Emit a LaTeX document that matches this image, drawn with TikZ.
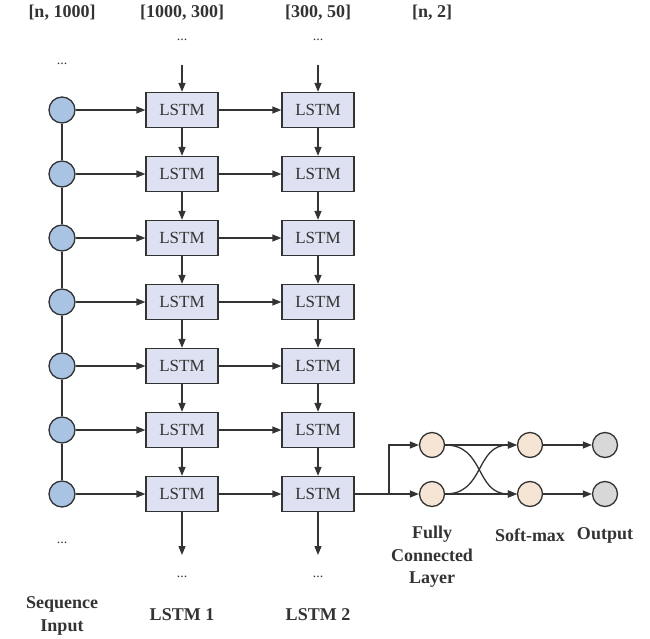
\documentclass[tikz,border=0pt]{standalone}
\usepackage{fontspec}
\setmainfont{Liberation Serif}
\usetikzlibrary{arrows.meta}
\definecolor{inblue}{HTML}{A9C3E3}
\definecolor{lstmfill}{HTML}{DEE1F1}
\definecolor{fcfill}{HTML}{F6E5D4}
\definecolor{outgrey}{HTML}{D8D8D8}
\definecolor{linec}{HTML}{333333}
\definecolor{txtc}{HTML}{333333}
\begin{document}
\begin{tikzpicture}[x=1pt,y=-1pt,
  conn/.style={draw=linec,line width=1.3pt},
  arr/.style={conn,-{Triangle[length=9pt,width=7pt]}},
  inode/.style={circle,draw=linec,line width=1.3pt,fill=inblue,minimum size=26pt,inner sep=0pt},
  fcnode/.style={circle,draw=linec,line width=1.3pt,fill=fcfill,minimum size=25pt,inner sep=0pt},
  onode/.style={circle,draw=linec,line width=1.3pt,fill=outgrey,minimum size=25pt,inner sep=0pt},
  lstm/.style={draw=linec,line width=1.3pt,fill=lstmfill,minimum width=72pt,minimum height=35pt,inner sep=0pt,font=\fontsize{17}{17}\selectfont,text=txtc},
  lab/.style={font=\fontsize{18}{22.5}\selectfont\bfseries,text=txtc,align=center},
  dots/.style={font=\fontsize{14}{14}\selectfont,text=txtc}
]
\useasboundingbox (0,0) rectangle (650,639);
% top labels
\node[lab] (t0) at (62,13) {[n, 1000]};
\node[lab] (t1) at (182,13) {[1000, 300]};
\node[lab] (t2) at (318,13) {[300, 50]};
\node[lab] (t3) at (432,13) {[n, 2]};
% dots top
\node[dots] (d1t) at (182,40) {...};
\node[dots] (d2t) at (318,40) {...};
\node[dots] (d0t) at (62,64) {...};
\coordinate (a1t) at (182,65);
\coordinate (a2t) at (318,65);
% rows
\foreach \i/\y in {1/110,2/174,3/238,4/302,5/366,6/430,7/494}{
  \node[inode] (c\i) at (62,\y) {};
  \node[lstm] (l\i) at (182,\y) {LSTM};
  \node[lstm] (m\i) at (318,\y) {LSTM};
  \draw[arr] (c\i) -- (l\i);
  \draw[arr] (l\i) -- (m\i);
}
\foreach \i/\j in {1/2,2/3,3/4,4/5,5/6,6/7}{
  \draw[conn] (c\i) -- (c\j);
  \draw[arr] (l\i) -- (l\j);
  \draw[arr] (m\i) -- (m\j);
}
\draw[arr] (a1t) -- (l1);
\draw[arr] (a2t) -- (m1);
\coordinate (a1b) at (182,555);
\coordinate (a2b) at (318,555);
\draw[arr] (l7) -- (a1b);
\draw[arr] (m7) -- (a2b);
\node[dots] (d0b) at (62,543) {...};
\node[dots] (d1b) at (182,577) {...};
\node[dots] (d2b) at (318,577) {...};
% bottom labels
\node[lab] (b0) at (62,616) {Sequence\\Input};
\node[lab] (b1) at (182,615) {LSTM 1};
\node[lab] (b2) at (318,615) {LSTM 2};
% right part
\node[fcnode] (f1) at (432,445) {};
\node[fcnode] (f2) at (432,494) {};
\node[fcnode] (s1) at (530,445) {};
\node[fcnode] (s2) at (530,494) {};
\node[onode] (o1) at (605,445) {};
\node[onode] (o2) at (605,494) {};
\coordinate (j) at (389,494);
\draw[conn] (m7.east) -- (j);
\draw[arr] (j) |- (f1);
\draw[arr] (j) -- (f2);
\draw[arr] (f1) -- (s1);
\draw[arr] (f2) -- (s2);
\draw[arr] (f1.east) .. controls (485,445) and (475,494) .. (s2.west);
\draw[arr] (f2.east) .. controls (485,494) and (475,445) .. (s1.west);
\draw[arr] (s1) -- (o1);
\draw[arr] (s2) -- (o2);
\node[lab] (fl) at (432,557) {Fully\\Connected\\Layer};
\node[lab] (sl) at (530,535) {Soft-max};
\node[lab] (ol) at (605,535) {Output};
\end{tikzpicture}
\end{document}
